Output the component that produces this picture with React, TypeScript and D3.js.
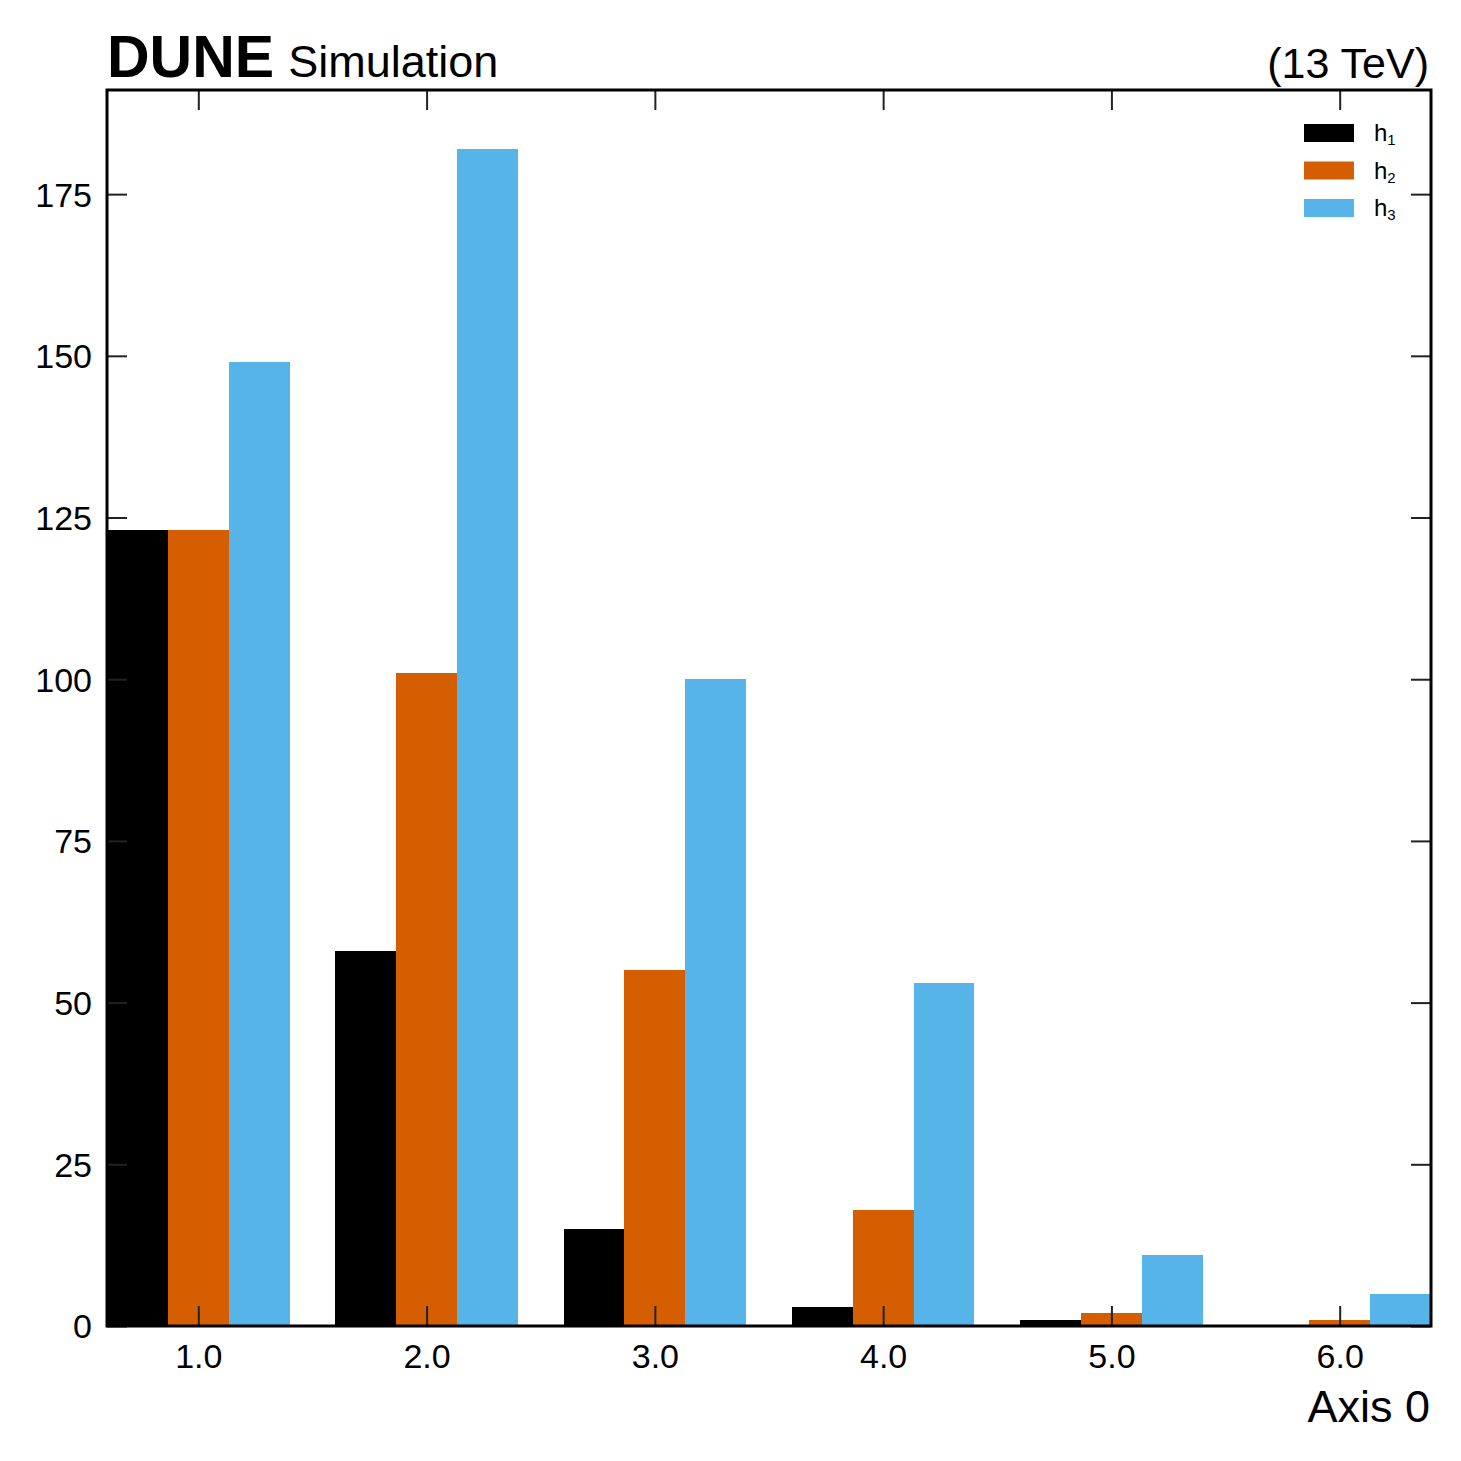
import React, { useEffect, useRef } from 'react';
import * as d3 from 'd3';

const categories = [1, 2, 3, 4, 5, 6];
const seriesNames = ['h1', 'h2', 'h3'];
const h1 = [123, 58, 15, 3, 1, 0];
const h2 = [123, 101, 55, 18, 2, 1];
const h3 = [149, 182, 100, 53, 11, 5];
const colors = ['#000000', '#d55e00', '#56b4e9'];
const yTicks = [0, 25, 50, 75, 100, 125, 150, 175];

const W = 1461;
const H = 1461;
const FONT = '"Liberation Sans", Arial, Helvetica, sans-serif';

const App: React.FC = () => {
  const svgRef = useRef<SVGSVGElement>(null);

  useEffect(() => {
    if (!svgRef.current) return;
    const svg = d3.select(svgRef.current);
    svg.selectAll('*').remove();

    const left = 107, right = 1431, top = 90, bottom = 1326;
    const series = [h1, h2, h3];
    const groupWidth = 0.8;
    const barW = groupWidth / series.length;

    const x = d3.scaleLinear()
      .domain([categories[0] - 0.4, categories[categories.length - 1] + 0.4])
      .range([left, right]);
    const yMax = d3.max(series.flat())! * 1.05;
    const y = d3.scaleLinear().domain([0, yMax]).range([bottom, top]);

    // bars
    series.forEach((values, k) => {
      svg.append('g')
        .selectAll('rect')
        .data(values)
        .join('rect')
        .attr('x', (_, i) => x(categories[i] - groupWidth / 2 + k * barW))
        .attr('width', (_, i) => x(categories[i] - groupWidth / 2 + (k + 1) * barW) - x(categories[i] - groupWidth / 2 + k * barW))
        .attr('y', d => y(d))
        .attr('height', d => y(0) - y(d))
        .attr('fill', colors[k])
        .attr('shape-rendering', 'crispEdges');
    });

    const tickLen = 20;
    const tickColor = '#222';

    // x axis (bottom + top), ticks inward
    const xAxisBottom = d3.axisBottom(x)
      .tickValues(categories)
      .tickFormat(d3.format('.1f'))
      .tickSizeInner(-tickLen)
      .tickSizeOuter(0)
      .tickPadding(tickLen + 10);
    const gxb = svg.append('g').attr('transform', `translate(0,${bottom})`).call(xAxisBottom);
    gxb.select('.domain').remove();
    gxb.selectAll('line').attr('stroke', tickColor).attr('stroke-width', 2);
    gxb.selectAll('text')
      .attr('font-family', FONT)
      .attr('font-size', 34)
      .attr('fill', '#000')
      .attr('dy', 0)
      .attr('y', 42);

    const xAxisTop = d3.axisTop(x)
      .tickValues(categories)
      .tickFormat(() => '')
      .tickSizeInner(-tickLen)
      .tickSizeOuter(0);
    const gxt = svg.append('g').attr('transform', `translate(0,${top})`).call(xAxisTop);
    gxt.select('.domain').remove();
    gxt.selectAll('line').attr('stroke', tickColor).attr('stroke-width', 2);

    // y axis (left + right)
    const yAxisLeft = d3.axisLeft(y)
      .tickValues(yTicks)
      .tickFormat(d3.format('d'))
      .tickSizeInner(-tickLen)
      .tickSizeOuter(0);
    const gyl = svg.append('g').attr('transform', `translate(${left},0)`).call(yAxisLeft);
    gyl.select('.domain').remove();
    gyl.selectAll('line').attr('stroke', tickColor).attr('stroke-width', 2);
    gyl.selectAll('text')
      .attr('font-family', FONT)
      .attr('font-size', 34)
      .attr('fill', '#000')
      .attr('x', -15)
      .attr('dy', '0.35em');

    const yAxisRight = d3.axisRight(y)
      .tickValues(yTicks)
      .tickFormat(() => '')
      .tickSizeInner(-tickLen)
      .tickSizeOuter(0);
    const gyr = svg.append('g').attr('transform', `translate(${right},0)`).call(yAxisRight);
    gyr.select('.domain').remove();
    gyr.selectAll('line').attr('stroke', tickColor).attr('stroke-width', 2);

    // frame
    svg.append('rect')
      .attr('x', left)
      .attr('y', top)
      .attr('width', right - left)
      .attr('height', bottom - top)
      .attr('fill', 'none')
      .attr('stroke', '#000')
      .attr('stroke-width', 3);

    // titles
    const title = svg.append('text')
      .attr('x', left)
      .attr('y', 77)
      .attr('font-family', FONT)
      .attr('fill', '#000');
    title.append('tspan').attr('font-weight', 'bold').attr('font-size', 59).text('DUNE');
    title.append('tspan').attr('font-size', 45).attr('dx', 14).text('Simulation');

    svg.append('text')
      .attr('x', 1429)
      .attr('y', 78)
      .attr('text-anchor', 'end')
      .attr('font-family', FONT)
      .attr('font-size', 43)
      .attr('fill', '#000')
      .text('(13 TeV)');

    svg.append('text')
      .attr('x', 1430)
      .attr('y', 1422)
      .attr('text-anchor', 'end')
      .attr('font-family', FONT)
      .attr('font-size', 45)
      .attr('fill', '#000')
      .text('Axis 0');

    // legend
    const legend = svg.append('g');
    seriesNames.forEach((name, k) => {
      const cy = 133 + k * 37.5;
      legend.append('rect')
        .attr('x', 1304)
        .attr('y', cy - 9)
        .attr('width', 50)
        .attr('height', 18)
        .attr('fill', colors[k]);
      const t = legend.append('text')
        .attr('x', 1374)
        .attr('y', cy + 8)
        .attr('font-family', FONT)
        .attr('font-size', 24)
        .attr('fill', '#000');
      t.append('tspan').text(name.charAt(0));
      t.append('tspan').attr('font-size', 15).attr('dy', 4).text(name.slice(1));
    });
  }, []);

  return (
    <svg
      ref={svgRef}
      width={W}
      height={H}
      style={{ position: 'absolute', left: 0, top: 0, background: '#fff' }}
    />
  );
};

export default App;
